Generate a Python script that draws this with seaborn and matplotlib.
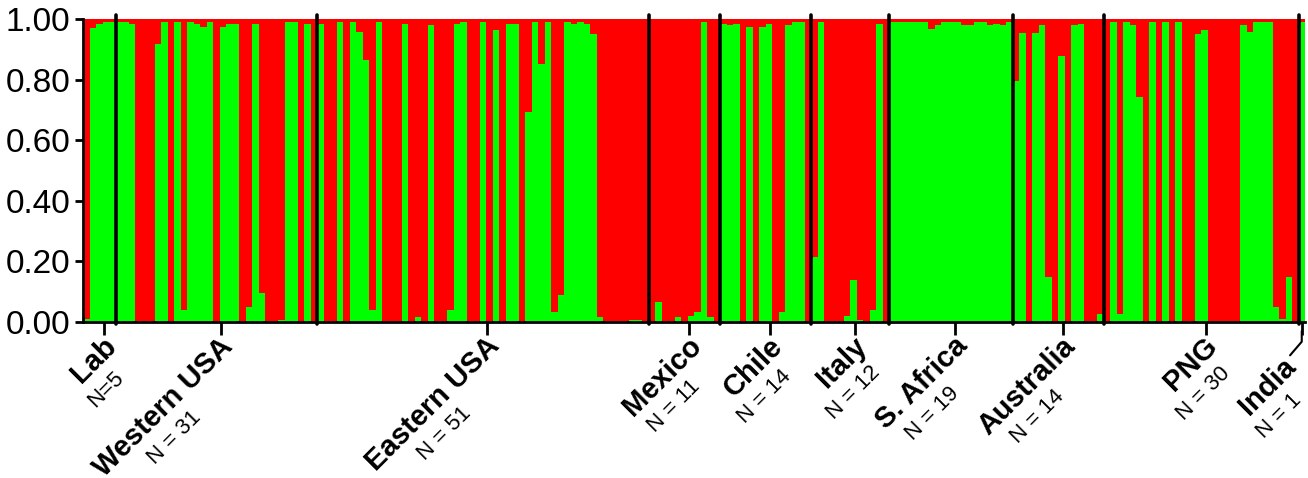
import numpy as np
import pandas as pd
import matplotlib
matplotlib.use('Agg')
import matplotlib.pyplot as plt
import seaborn as sns
from matplotlib.textpath import TextPath
from matplotlib.font_manager import FontProperties

# populations, sample sizes and labels
populations = ['Lab', 'Western USA', 'Eastern USA', 'Mexico', 'Chile', 'Italy',
               'S. Africa', 'Australia', 'PNG', 'India']
n_labels = ['N=5', 'N = 31', 'N = 51', 'N = 11', 'N = 14', 'N = 12',
            'N = 19', 'N = 14', 'N = 30', 'N = 1']

# membership in the green cluster for each individual (rest is red)
q_lab = [0.01, 0.97, 0.985, 0.99, 0.99]
q_western = [0.99, 0.99, 0.985, 0, 0, 0, 0.917, 0.99, 0, 0.99, 0.04, 0.99, 0.985,
             0.975, 0.99, 0, 0.972, 0.985, 0.985, 0, 0.05, 0.985, 0.096, 0, 0,
             0.008, 0.99, 0.99, 0, 0.985, 0]
q_eastern = [0.985, 0, 0, 0.99, 0, 0.99, 0.958, 0.865, 0.04, 0.99, 0, 0, 0, 0.985,
             0, 0.017, 0, 0.98, 0, 0, 0.04, 0.985, 0.99, 0, 0, 0.99, 0, 0.965, 0,
             0.985, 0.985, 0, 0.693, 0.99, 0.853, 0.99, 0.033, 0.088, 0.99, 0.985,
             0.99, 0.985, 0.95, 0.016, 0, 0, 0, 0, 0.008, 0.008, 0]
q_mexico = [0, 0.066, 0, 0, 0.016, 0, 0.02, 0.033, 0.99, 0.016, 0]
q_chile = [0.985, 0.98, 0.985, 0, 0.972, 0, 0.972, 0.985, 0, 0.033, 0.98, 0.99,
           0.99, 0]
q_italy = [0.213, 0.99, 0, 0, 0, 0.019, 0.14, 0.008, 0, 0.04, 0.985, 0]
q_safrica = [0.99, 0.99, 0.99, 0.99, 0.99, 0.99, 0.967, 0.98, 0.99, 0.99, 0.99,
             0.98, 0.98, 0.99, 0.99, 0.98, 0.985, 0.98, 0.99]
q_australia = [0.796, 0.955, 0, 0.955, 0.98, 0.147, 0, 0.878, 0, 0.98, 0.985, 0,
               0, 0.025]
q_png = [0, 0.99, 0.025, 0.99, 0.98, 0.744, 0, 0.99, 0, 0.99, 0, 0.99, 0, 0,
         0.95, 0.965, 0, 0, 0, 0, 0, 0.98, 0.958, 0.99, 0.99, 0.99, 0.048, 0.011,
         0.147, 0]
q_india = [0.99]

groups = [q_lab, q_western, q_eastern, q_mexico, q_chile, q_italy, q_safrica,
          q_australia, q_png, q_india]

green = np.concatenate([np.array(g, dtype=float) for g in groups])
df = pd.DataFrame({'ind': np.arange(len(green)), 'green': green})
df['red'] = 1 - df['green']
df['total'] = df['green'] + df['red']

sizes = np.array([len(g) for g in groups])
ends = np.cumsum(sizes)
starts = ends - sizes
# label ticks sit a little right of the group middle, like the original
centers = starts + (sizes - 1) / 2 + 0.7
centers[-1] = starts[-1]

sns.set_style('ticks')
plt.rcParams['font.family'] = ['Liberation Sans', 'DejaVu Sans']
plt.rcParams['text.color'] = 'black'
plt.rcParams['xtick.color'] = 'black'
plt.rcParams['ytick.color'] = 'black'

fig = plt.figure(figsize=(13.08, 4.78), dpi=100)
ax = fig.add_axes([83 / 1308, 1 - 322 / 478, 1222 / 1308, 303 / 478])

sns.barplot(data=df, x='ind', y='total', color='#ff0000', width=1, saturation=1,
            linewidth=0, errorbar=None, native_scale=True, ax=ax)
sns.barplot(data=df, x='ind', y='green', color='#00ff00', width=1, saturation=1,
            linewidth=0, errorbar=None, native_scale=True, ax=ax)

# population separators
for b in ends[:-1] - 0.5:
    ax.plot([b, b], [-0.005, 1.012], color='black', lw=2.6, clip_on=False, zorder=5)

ax.set_xlim(-0.5, len(green) - 0.5)
ax.set_ylim(0, 1)
ax.set_xlabel('')
ax.set_ylabel('')
sns.despine(ax=ax)
for s in ['left', 'bottom']:
    ax.spines[s].set_linewidth(2)
    ax.spines[s].set_color('black')

ax.set_yticks(np.arange(0, 1.01, 0.2))
ax.set_yticklabels([f'{v:.2f}' for v in np.arange(0, 1.01, 0.2)], fontsize=24,
                   color='black')
ax.tick_params(axis='y', length=6, width=2, pad=3)
ax.set_xticks(centers)
ax.set_xticklabels([])
ax.tick_params(axis='x', length=9, width=2)

# rotated population labels: bold name, sample size underneath
u = np.array([0.7071, 0.7071])
p = np.array([0.7071, -0.7071])
px2pt = 0.72
name_fs = 21
n_fs = 16
bold = FontProperties(family='Liberation Sans', weight='bold')
for i, (name, nl) in enumerate(zip(populations, n_labels)):
    anchor = np.array([-2.0, -10.0])
    if name == 'India':
        anchor = np.array([-20.0, -30.0])
    L = TextPath((0, 0), name, size=name_fs, prop=bold).get_extents().width / px2pt
    ax.annotate(name, xy=(centers[i], 0), xycoords='data',
                xytext=tuple(anchor * px2pt), textcoords='offset points',
                ha='right', va='top', rotation=45, rotation_mode='anchor',
                fontsize=name_fs, fontweight='bold', color='black',
                annotation_clip=False)
    n_pos = anchor - (L / 2 + 14) * u + 33 * p
    ax.annotate(nl, xy=(centers[i], 0), xycoords='data',
                xytext=tuple(n_pos * px2pt), textcoords='offset points',
                ha='center', va='top', rotation=45, rotation_mode='anchor',
                fontsize=n_fs, color='black', annotation_clip=False)

# leader line from the India tick to its label
ax.plot([centers[-1], centers[-1], centers[-1] - 1.8], [-0.03, -0.065, -0.11],
        color='black', lw=1.5, clip_on=False, transform=ax.get_xaxis_transform())

fig.savefig('out.png', dpi=100)
